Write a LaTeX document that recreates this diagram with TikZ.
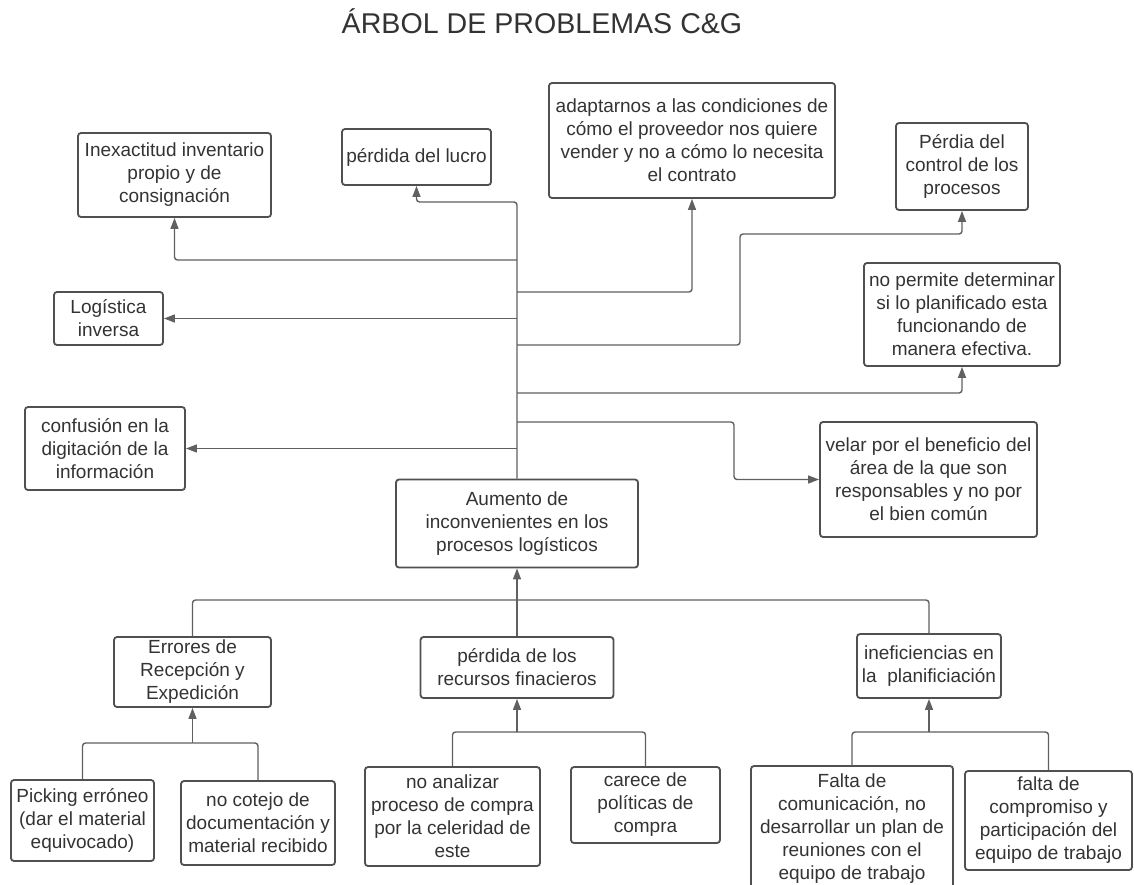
\documentclass[tikz,border=0pt]{standalone}
\usepackage{fontspec}
\setmainfont{Liberation Sans}
\usepackage{xcolor}
\usetikzlibrary{arrows.meta}
\definecolor{txtgray}{HTML}{333333}
\definecolor{boxgray}{HTML}{505050}
\definecolor{linegray}{HTML}{606060}

\begin{document}
\begin{tikzpicture}[x=1pt,y=-1pt,
	box/.style={draw=boxgray,line width=1.8pt,rounded corners=3pt,align=center,
		inner sep=0pt,text=txtgray,font=\fontsize{19}{23}\selectfont},
	link/.style={draw=linegray,line width=1.4pt,rounded corners=3pt},
	arr/.style={link,-{Triangle[length=11pt,width=8pt]}}]
	
	\path[use as bounding box] (0,0) rectangle (1134,884);
	
	% --- title ---
	\node[anchor=base,text=txtgray,font=\fontsize{28.6}{34}\selectfont] (title) at (542,33)
	{ÁRBOL DE PROBLEMAS C\&G};
	
	% --- central problem ---
	\node[box,minimum width=242pt,minimum height=88pt] (cause) at (517,523.5)
	{Aumento de\\inconvenientes en los\\procesos logísticos};
	
	% --- effects (top) ---
	\node[box,minimum width=193pt,minimum height=84pt] (inexact) at (174.5,175)
	{Inexactitud inventario\\propio y de\\consignación};
	\node[box,minimum width=149pt,minimum height=56pt] (lucro) at (416.5,157)
	{pérdida del lucro};
	\node[box,minimum width=286pt,minimum height=115pt] (adapt) at (692,140.5)
	{adaptarnos a las condiciones de\\cómo el proveedor nos quiere\\vender y no a cómo lo necesita\\el contrato};
	\node[box,minimum width=132pt,minimum height=87pt] (perdia) at (962,166.5)
	{Pérdia del\\control de los\\procesos};
	\node[box,minimum width=109pt,minimum height=53pt] (logist) at (108.5,318.5)
	{Logística\\inversa};
	\node[box,minimum width=196pt,minimum height=103pt] (noperm) at (962,314.5)
	{no permite determinar\\si lo planificado esta\\funcionando de\\manera efectiva.};
	\node[box,minimum width=160pt,minimum height=83pt] (confus) at (105,448.5)
	{confusión en la\\digitación de la\\información};
	\node[box,minimum width=217pt,minimum height=115pt] (velar) at (928.5,479.5)
	{velar por el beneficio del\\área de la que son\\responsables y no por\\el bien común};
	
	% --- causes (bottom) ---
	\node[box,minimum width=157pt,minimum height=70pt] (errores) at (192.5,672)
	{Errores de\\Recepción y\\Expedición};
	\node[box,minimum width=193pt,minimum height=61pt] (recursos) at (517,667.5)
	{pérdida de los\\recursos finacieros};
	\node[box,minimum width=144pt,minimum height=64pt] (inefic) at (929,666)
	{ineficiencias en\\la\ \ planificiación};
	
	\node[box,minimum width=143pt,minimum height=81pt] (picking) at (82.5,820.5)
	{Picking erróneo\\(dar el material\\equivocado)};
	\node[box,minimum width=154pt,minimum height=84pt] (cotejo) at (258,823)
	{no cotejo de\\documentación y\\material recibido};
	\node[box,minimum width=175pt,minimum height=99pt] (analizar) at (452.5,816.5)
	{no analizar\\proceso de compra\\por la celeridad de\\este};
	\node[box,minimum width=149pt,minimum height=76pt] (carece) at (645.5,805)
	{carece de\\políticas de\\compra};
	\node[box,minimum width=202pt,minimum height=126pt] (comunic) at (852,829)
	{Falta de\\comunicación, no\\desarrollar un plan de\\reuniones con el\\equipo de trabajo};
	\node[box,minimum width=167pt,minimum height=99pt] (compro) at (1048.5,820.5)
	{falta de\\compromiso y\\participación del\\equipo de trabajo};
	
	% trunk points
	\coordinate (tlucro) at (517,202);
	\coordinate (tinex) at (517,260);
	\coordinate (tadapt) at (517,292);
	\coordinate (tlog) at (517,318.5);
	\coordinate (tper) at (517,345);
	\coordinate (tnoper) at (517,393);
	\coordinate (tvel) at (517,422);
	\coordinate (tconf) at (517,448.5);
	\coordinate (kper) at (740,234);
	\coordinate (kvel) at (734,479.5);
	
	% --- effect connectors ---
	\draw[arr] (cause.north) -- (tlucro) -| (lucro.south);
	\draw[arr] (tinex) -| (inexact.south);
	\draw[arr] (tadapt) -| (adapt.south);
	\draw[arr] (tlog) -- (logist.east);
	\draw[arr] (tper) -| (kper) -| (perdia.south);
	\draw[arr] (tnoper) -| (noperm.south);
	\draw[arr] (tvel) -| (kvel) -- (velar.west);
	\draw[arr] (tconf) -- (confus.east);
	
	% --- cause connectors ---
	\coordinate (bus) at (517,600);
	\draw[arr] (recursos.north) -- (cause.south);
	\draw[link] (errores.north) |- (bus);
	\draw[link] (inefic.north) |- (bus);
	
	\coordinate (jerr) at (192.5,743);
	\draw[link] (picking.north) |- (jerr);
	\draw[link] (cotejo.north) |- (jerr);
	\draw[arr] (jerr) -- (errores.south);
	
	\coordinate (jrec) at (517,732);
	\draw[link] (analizar.north) |- (jrec);
	\draw[link] (carece.north) |- (jrec);
	\draw[arr] (jrec) -- (recursos.south);
	
	\coordinate (jine) at (929,732);
	\draw[link] (comunic.north) |- (jine);
	\draw[link] (compro.north) |- (jine);
	\draw[arr] (jine) -- (inefic.south);
	
\end{tikzpicture}
\end{document}
